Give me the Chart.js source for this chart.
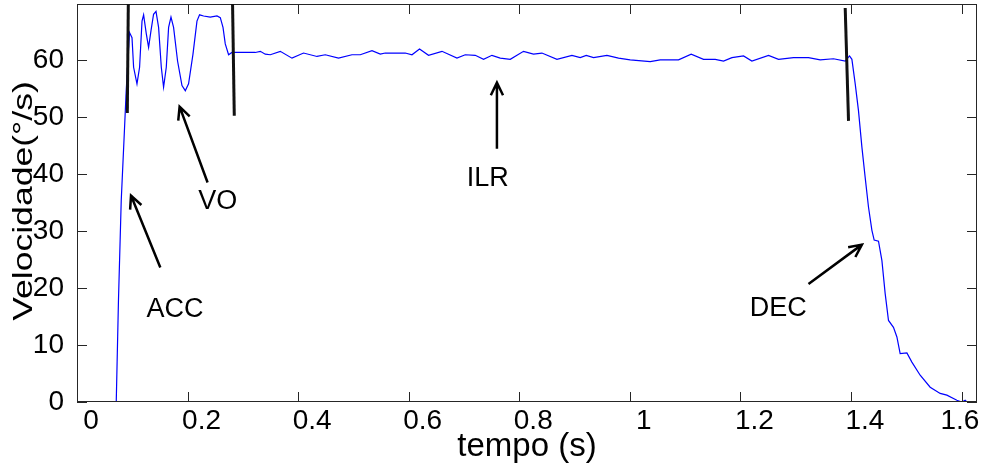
<!DOCTYPE html>
<html>
<head>
<meta charset="utf-8">
<script src="https://cdn.jsdelivr.net/npm/chart.js@4.4.0/dist/chart.umd.min.js"></script>
<style>
  html, body { margin: 0; padding: 0; background: #fff; }
  #wrap { width: 983px; height: 468px; }
</style>
</head>
<body>
<div id="wrap"><canvas id="chart" width="983" height="468"></canvas></div>
<script>
// tempo (s) e velocidade (°/s)
const tempo = [
  0.071, 0.075, 0.080, 0.0855, 0.089, 0.095, 0.0995, 0.1024, 0.1085, 0.1132,
  0.1176, 0.1205, 0.1253, 0.1295, 0.1338, 0.1385, 0.1429, 0.1476, 0.1525, 0.1566,
  0.1615, 0.1657, 0.1700, 0.1747, 0.1819, 0.1899, 0.1959, 0.2018, 0.2098, 0.2170,
  0.2217, 0.2290, 0.2411, 0.2532, 0.2592, 0.2641, 0.2682, 0.2742, 0.2803, 0.2954,
  0.3225, 0.3316, 0.3406, 0.3497, 0.3677, 0.3889, 0.4098, 0.4341, 0.4491, 0.4731,
  0.4974, 0.5124, 0.5336, 0.5486, 0.5576, 0.5938, 0.6059, 0.6196, 0.6359, 0.6602,
  0.6873, 0.7023, 0.7204, 0.7354, 0.7506, 0.7656, 0.7837, 0.8077, 0.8258, 0.8410,
  0.8682, 0.8953, 0.9103, 0.9212, 0.9344, 0.9586, 0.9796, 1.0007, 1.0369, 1.0550,
  1.0881, 1.1110, 1.1333, 1.1545, 1.1695, 1.1847, 1.2057, 1.2208, 1.2509, 1.2690,
  1.2961, 1.3232, 1.3444, 1.3684, 1.3896, 1.3974, 1.4017, 1.4077, 1.4136, 1.4198,
  1.4257, 1.4317, 1.4379, 1.4420, 1.4498, 1.4560, 1.4619, 1.4679, 1.4769, 1.4831,
  1.4890, 1.5012, 1.5102, 1.5252, 1.5433, 1.5614, 1.5735, 1.5916, 1.6006, 1.6066,
  1.6097
];
const velocidade = [
  0, 17.8, 35.3, 47.0, 54.6, 64.8, 63.9, 58.7, 55.8, 58.7,
  66.8, 67.9, 64.6, 62.2, 65.1, 68.0, 68.5, 65.7, 58.7, 55.2,
  58.7, 65.7, 67.5, 65.7, 59.8, 55.5, 54.6, 55.8, 61.0, 66.8,
  67.9, 67.7, 67.5, 67.7, 67.4, 65.7, 62.8, 60.9, 61.3, 61.3,
  61.3, 61.5, 61.0, 60.9, 61.5, 60.3, 61.2, 60.6, 60.9, 60.3,
  60.9, 60.9, 61.6, 61.0, 61.2, 61.2, 60.9, 61.9, 60.8, 61.5,
  60.3, 60.9, 60.8, 60.1, 60.8, 60.3, 60.1, 61.5, 61.0, 61.2,
  60.1, 60.8, 60.4, 60.8, 60.4, 60.8, 60.3, 60.0, 59.7, 60.0,
  60.0, 61.0, 60.1, 60.1, 59.8, 60.4, 60.7, 59.8, 60.8, 60.1,
  60.4, 60.4, 60.0, 60.2, 59.8, 60.7, 60.1, 55.8, 51.1, 44.7,
  39.4, 34.2, 30.1, 28.4, 28.2, 24.8, 19.0, 14.3, 13.1, 11.4,
  8.5, 8.6, 7.0, 4.7, 2.6, 1.5, 1.2, 0.3, 0, 0.3,
  0
];

const xTicks = [0, 0.2, 0.4, 0.6, 0.8, 1, 1.2, 1.4, 1.6];
// o último rótulo fica recuado para caber na figura
const xTickLabels = ['0', '0.2', '0.4', '0.6', '0.8', '1', '1.2', '1.4', '1.6\u00a0\u00a0\u00a0\u00a0'];
const yTicks = [0, 10, 20, 30, 40, 50, 60];
const yTickLabels = ['0', '10', '20', '30', '40', '50', '60'];

// marcas verticais (segmentos pretos) : [t, v] topo e base
const markTops = [[0.0928, 69.8], [0.2814, 69.8], [1.3896, 69.1]];
const markBottoms = [[0.0910, 50.7], [0.2845, 50.2], [1.3956, 49.3]];

// setas com rótulos
const arrowLabels = ['ACC', 'VO', 'ILR', 'DEC'];
const arrowTails = [[0.1507, 23.6], [0.2362, 38.5], [0.7596, 44.4], [1.3232, 20.7]];
const arrowHeads = [[0.0977, 36.2], [0.1856, 51.8], [0.7596, 56.0], [1.4198, 27.6]];
const labelCenters = [[0.1772, 16.6], [0.2547, 35.5], [0.743, 39.5], [1.2684, 16.8]];

const FONT = "'Liberation Sans', Arial, Helvetica, sans-serif";

const matlabAxes = {
  id: 'matlabAxes',
  afterDraw(chart) {
    const { ctx, chartArea: a, scales: { x, y } } = chart;
    ctx.save();

    // caixa dos eixos
    ctx.strokeStyle = '#262626';
    ctx.lineWidth = 1;
    ctx.strokeRect(Math.round(a.left) + 0.5, Math.round(a.top) + 0.5,
      Math.round(a.right - a.left) - 1, Math.round(a.bottom - a.top) - 1);

    // ticks para dentro
    ctx.beginPath();
    xTicks.forEach(v => {
      const px = Math.round(x.getPixelForValue(v)) + 0.5;
      ctx.moveTo(px, a.bottom); ctx.lineTo(px, a.bottom - 10);
      ctx.moveTo(px, a.top); ctx.lineTo(px, a.top + 10);
    });
    yTicks.forEach(v => {
      const py = Math.round(y.getPixelForValue(v)) + 0.5;
      ctx.moveTo(a.left, py); ctx.lineTo(a.left + 10, py);
      ctx.moveTo(a.right, py); ctx.lineTo(a.right - 10, py);
    });
    ctx.stroke();

    // segmentos pretos
    ctx.strokeStyle = '#111';
    ctx.lineWidth = 3;
    markTops.forEach((p, i) => {
      const q = markBottoms[i];
      ctx.beginPath();
      ctx.moveTo(x.getPixelForValue(p[0]), y.getPixelForValue(p[1]));
      ctx.lineTo(x.getPixelForValue(q[0]), y.getPixelForValue(q[1]));
      ctx.stroke();
    });

    // setas
    ctx.strokeStyle = '#000';
    ctx.lineWidth = 2.5;
    arrowTails.forEach((p, i) => {
      const x0 = x.getPixelForValue(p[0]), y0 = y.getPixelForValue(p[1]);
      const x1 = x.getPixelForValue(arrowHeads[i][0]), y1 = y.getPixelForValue(arrowHeads[i][1]);
      const ang = Math.atan2(y1 - y0, x1 - x0);
      const len = 14, spread = 0.45;
      ctx.beginPath();
      ctx.moveTo(x0, y0); ctx.lineTo(x1, y1);
      ctx.moveTo(x1 - len * Math.cos(ang - spread), y1 - len * Math.sin(ang - spread));
      ctx.lineTo(x1, y1);
      ctx.lineTo(x1 - len * Math.cos(ang + spread), y1 - len * Math.sin(ang + spread));
      ctx.stroke();
    });

    // rótulos
    ctx.fillStyle = '#000';
    ctx.font = `27px ${FONT}`;
    ctx.textAlign = 'center';
    ctx.textBaseline = 'alphabetic';
    labelCenters.forEach((p, i) => {
      ctx.fillText(arrowLabels[i], x.getPixelForValue(p[0]), y.getPixelForValue(p[1]) + 27 * 0.36);
    });

    // títulos dos eixos
    ctx.font = `33px ${FONT}`;
    ctx.fillText('tempo (s)', (a.left + a.right) / 2, 456);

    ctx.save();
    ctx.translate(32, (a.top + a.bottom) / 2 - 2);
    ctx.rotate(-Math.PI / 2);
    ctx.scale(1.27, 1);
    ctx.font = `28px ${FONT}`;
    ctx.fillText('Velocidade(°/s)', 0, 0);
    ctx.restore();

    ctx.restore();
  }
};

new Chart(document.getElementById('chart'), {
  type: 'line',
  data: {
    datasets: [{
      data: tempo.map((t, i) => ({ x: t, y: velocidade[i] })),
      borderColor: '#0000ff',
      borderWidth: 1.2,
      pointRadius: 0,
      tension: 0,
      fill: false
    }]
  },
  options: {
    responsive: false,
    animation: false,
    devicePixelRatio: 1,
    layout: { padding: { top: 4, right: 6, left: 0, bottom: 0 } },
    plugins: { legend: { display: false }, tooltip: { enabled: false } },
    scales: {
      x: {
        type: 'linear',
        min: 0,
        max: 1.628,
        grid: { display: false },
        border: { display: false },
        afterBuildTicks: s => { s.ticks = xTicks.map(v => ({ value: v })); },
        afterFit: s => {
          s.height = 66;
          s.paddingLeft = 0; s.paddingRight = 0;
        },
        ticks: {
          autoSkip: false,
          maxRotation: 0,
          labelOffset: 14,
          padding: -6,
          color: '#000',
          font: { family: FONT, size: 28 },
          callback: (v, i) => xTickLabels[i]
        }
      },
      y: {
        type: 'linear',
        min: 0,
        max: 69.8,
        grid: { display: false },
        border: { display: false },
        afterBuildTicks: s => { s.ticks = yTicks.map(v => ({ value: v })); },
        afterFit: s => {
          s.width = 77;
          s.paddingTop = 0; s.paddingBottom = 0;
        },
        ticks: {
          autoSkip: false,
          padding: 5,
          color: '#000',
          font: { family: FONT, size: 28 },
          callback: (v, i) => yTickLabels[i]
        }
      }
    }
  },
  plugins: [matlabAxes]
});
</script>
</body>
</html>
